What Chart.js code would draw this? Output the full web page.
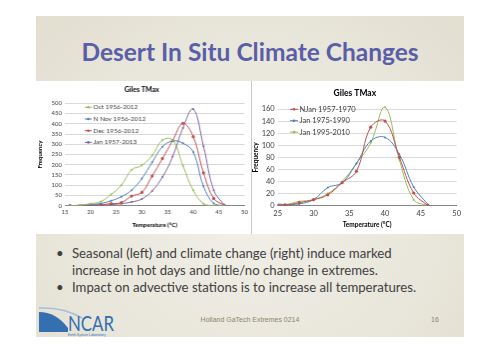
<!DOCTYPE html>
<html>
<head>
<meta charset="utf-8">
<script src="https://cdn.jsdelivr.net/npm/chart.js@4.4.1/dist/chart.umd.min.js"></script>
<style>
    body { margin: 0; background: #fff; width: 500px; height: 353px; overflow: hidden; font-family: Lato, "Noto Sans", sans-serif; }
    #slide { position: absolute; left: 36px; top: 16px; width: 428px; height: 321px;
        background: radial-gradient(ellipse at 50% 60%, #f1efe8 0%, #e9e6db 60%, #e2ded0 100%); }
    #title { position: absolute; left: 0; width: 428px; top: 21px; text-align: center;
        font-weight: bold; font-size: 24.5px; color: #5a5ea8; }
    #charts { position: absolute; left: 0; top: 65px; width: 428px; height: 153px; background: #fff; }
    canvas { position: absolute; top: 0; background: #fff; }
    #c1 { left: 0; border-right: 1px solid #c8c8c8; }
    #c2 { left: 216px; }
    .bl { position: absolute; font-size: 13.2px; color: #404040; line-height: 17px; }
    #footer { position: absolute; left: 0; width: 428px; top: 300px; text-align: center; font-size: 7px; color: #8c8468; font-family: "Liberation Sans", Arial, sans-serif; }
    #page { position: absolute; left: 395px; top: 300px; font-size: 7px; color: #8c8468; font-family: "Liberation Sans", Arial, sans-serif; }
    #logo { position: absolute; left: 2px; top: 290px; }
</style>
</head>
<body>
<div id="slide">
    <div id="title">Desert In Situ Climate Changes</div>
    <div id="charts">
        <canvas id="c1" width="216" height="153"></canvas>
        <canvas id="c2" width="212" height="153"></canvas>
    </div>
    <div class="bl" style="left:20px; top:229px;">•</div>
    <div class="bl" style="left:36px; top:229px;">Seasonal (left) and climate change (right) induce marked<br>increase in hot days and little/no change in extremes.</div>
    <div class="bl" style="left:20px; top:263px;">•</div>
    <div class="bl" style="left:36px; top:263px;">Impact on advective stations is to increase all temperatures.</div>
    <svg id="logo" width="90" height="32" viewBox="0 0 90 32">
        <path d="M1,6 Q18,6 30,22 L30,26 L1,26 Z" fill="#3470b0"/>
        <path d="M1,2 Q26,1 44,12" stroke="#9fc0de" stroke-width="1.5" fill="none"/>
        <text x="30" y="25" font-family="Lato, sans-serif" font-size="22" fill="#3470b0" textLength="46" lengthAdjust="spacingAndGlyphs">NCAR</text>
        <text x="30" y="30" font-family="Lato, sans-serif" font-size="3.5" fill="#3470b0">Earth System Laboratory</text>
    </svg>
    <div id="footer">Holland GaTech Extremes 0214</div>
    <div id="page">16</div>
</div>

<script>
// seasonal histograms (left)
const leftTemps = [16, 18, 20, 22, 24, 26, 28, 30, 32, 34, 36, 38, 40, 42, 44, 46];
const octValues = [0, 3, 10, 20, 55, 100, 175, 197, 245, 320, 320, 195, 75, 10, 0, 0];
const novValues = [0, 2, 5, 11, 24, 44, 76, 133, 212, 288, 316, 305, 262, 95, 11, 0];
const decValues = [0, 1, 3, 5, 10, 15, 47, 65, 145, 230, 318, 402, 337, 161, 35, 3];
const janValues = [0, 0, 2, 3, 5, 10, 18, 33, 72, 140, 240, 380, 472, 290, 75, 4];
const leftLabels = ["Oct 1956-2012", "N Nov 1956-2012", "Dec 1956-2012", "Jan 1957-2013"];

// January by period (right)
const rightTemps = [24, 26, 28, 30, 32, 34, 36, 38, 40, 42, 44, 46];
const jan5770 = [3, 1, 5, 10, 18, 38, 57, 130, 140, 80, 21, 0];
const jan7590 = [4, 2, 3, 10, 30, 38, 70, 107, 113, 85, 31, 2];
const jan9510 = [3, 2, 7, 10, 20, 40, 70, 104, 163, 76, 10, 0];
const rightLabels = ["NJan 1957-1970", "Jan 1975-1990", "Jan 1995-2010"];

const GREEN = '#9bbb59', BLUE = '#4f81bd', RED = '#c0504d', PURPLE = '#8064a2';

function pts(xs, ys) {
    return xs.map((x, i) => ({ x: x, y: ys[i] }));
}

function series(label, xs, ys, color, radius) {
    return {
        label: label,
        data: pts(xs, ys),
        borderColor: color,
        backgroundColor: color,
        borderWidth: 1,
        pointRadius: radius,
        pointBorderWidth: 0,
        tension: 0.4,
        fill: false,
        clip: { left: 0, right: 0, top: 6, bottom: 0 }
    };
}

// Excel-style legend drawn inside the plot
const insideLegend = {
    id: 'insideLegend',
    afterDraw(chart, args, opts) {
        const ctx = chart.ctx;
        ctx.save();
        ctx.font = opts.font;
        ctx.textBaseline = 'middle';
        chart.data.datasets.forEach((ds, i) => {
            const y = opts.y + i * opts.gap;
            ctx.strokeStyle = ds.borderColor;
            ctx.lineWidth = 1;
            ctx.beginPath();
            ctx.moveTo(opts.x, y);
            ctx.lineTo(opts.x + opts.len, y);
            ctx.stroke();
            ctx.fillStyle = ds.borderColor;
            ctx.beginPath();
            ctx.arc(opts.x + opts.len / 2, y, 1.3, 0, 2 * Math.PI);
            ctx.fill();
            ctx.fillStyle = '#404040';
            ctx.fillText(ds.label, opts.x + opts.len + 1.5, y);
        });
        ctx.restore();
    }
};

function makeOptions(o) {
    return {
        responsive: false,
        animation: false,
        layout: { padding: { left: 0, right: o.padRight, top: 0, bottom: 0 } },
        plugins: {
            legend: { display: false },
            tooltip: { enabled: false },
            title: {
                display: true, text: 'Giles TMax', color: '#000',
                font: { family: 'Lato, sans-serif', size: o.titleSize, weight: 'bold' },
                padding: { top: o.titleTop, bottom: o.titleBottom }
            },
            insideLegend: o.legend
        },
        scales: {
            x: {
                type: 'linear', min: o.xMin, max: 50,
                ticks: { stepSize: 5, color: '#404040', font: { family: 'Lato, sans-serif', size: o.tickSize }, padding: 3 },
                grid: { display: false, drawTicks: false },
                border: { color: '#868686' },
                title: { display: true, text: 'Temperature (°C)', color: '#000', font: { family: 'Lato, sans-serif', size: o.axisSize, weight: 'bold' }, padding: { top: 2, bottom: 5 } },
                afterFit: s => { s.height = o.xHeight; }
            },
            y: {
                min: 0, max: o.yMax,
                ticks: { stepSize: o.yStep, color: '#404040', font: { family: 'Lato, sans-serif', size: o.tickSize }, padding: 3 },
                grid: { color: '#d9d9d9', drawTicks: false },
                border: { display: false },
                title: { display: true, text: 'Frequency', color: '#000', font: { family: 'Lato, sans-serif', size: o.axisSize, weight: 'bold' }, padding: 0 },
                afterFit: s => { s.width = o.yWidth; }
            }
        }
    };
}

new Chart(document.getElementById('c1'), {
    type: 'line',
    data: {
        datasets: [
            series(leftLabels[0], leftTemps, octValues, GREEN, 1),
            series(leftLabels[1], leftTemps, novValues, BLUE, 1),
            series(leftLabels[2], leftTemps, decValues, RED, 1.6),
            series(leftLabels[3], leftTemps, janValues, PURPLE, 1)
        ]
    },
    options: makeOptions({
        padRight: 3.7, titleSize: 7, titleTop: 5, titleBottom: 8.9,
        xMin: 15, yMax: 500, yStep: 50, tickSize: 6, axisSize: 6,
        xHeight: 28.3, yWidth: 29,
        legend: { x: 49, y: 26.3, gap: 11.7, len: 7, font: '6.5px Lato, sans-serif' }
    }),
    plugins: [insideLegend]
});

new Chart(document.getElementById('c2'), {
    type: 'line',
    data: {
        datasets: [
            series(rightLabels[0], rightTemps, jan5770, RED, 1.6),
            series(rightLabels[1], rightTemps, jan7590, BLUE, 1),
            series(rightLabels[2], rightTemps, jan9510, GREEN, 1)
        ]
    },
    options: makeOptions({
        padRight: 6.3, titleSize: 8.5, titleTop: 6.9, titleBottom: 10.9,
        xMin: 25, yMax: 160, yStep: 20, tickSize: 7.5, axisSize: 6.5,
        xHeight: 28.3, yWidth: 25.7,
        legend: { x: 38, y: 28.3, gap: 11.4, len: 8, font: '7.5px Lato, sans-serif' }
    }),
    plugins: [insideLegend]
});
</script>
</body>
</html>
